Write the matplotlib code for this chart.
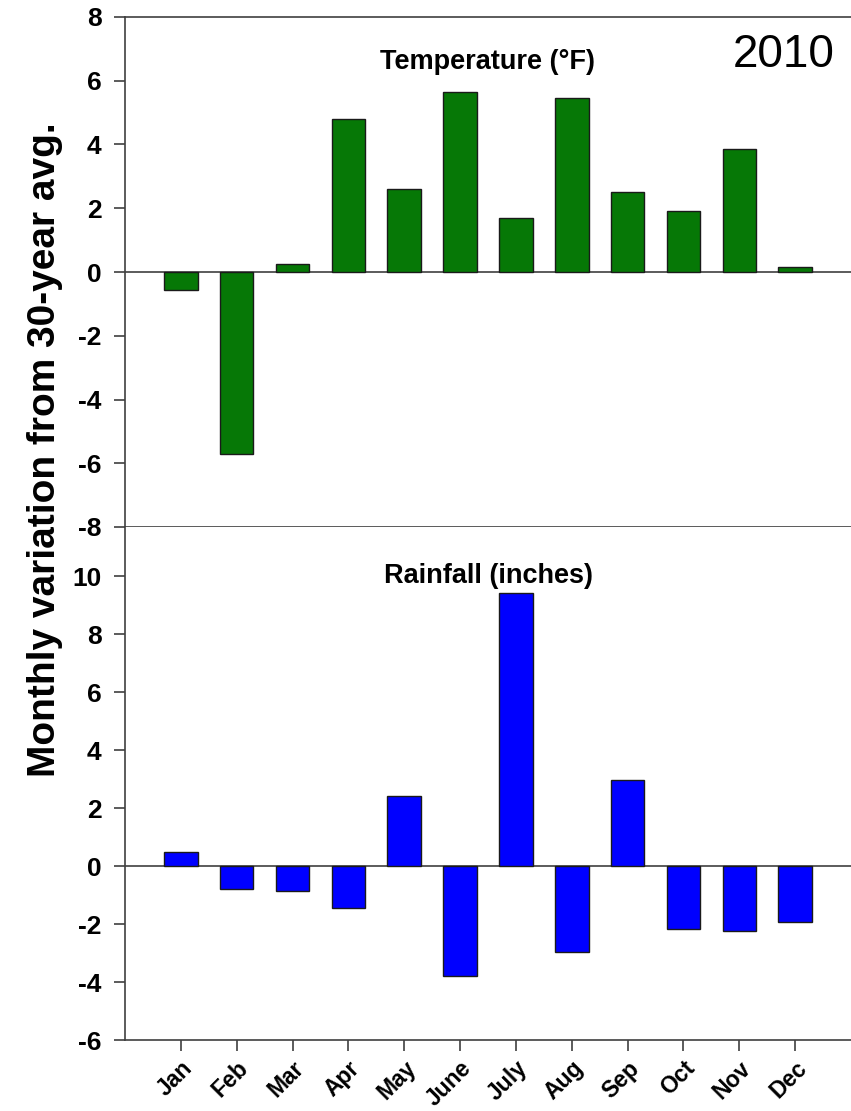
import matplotlib
matplotlib.use('Agg')
import matplotlib.pyplot as plt
import numpy as np

months = ['Jan', 'Feb', 'Mar', 'Apr', 'May', 'June', 'July', 'Aug', 'Sep', 'Oct', 'Nov', 'Dec']
temp = [-0.55, -5.7, 0.25, 4.8, 2.6, 5.65, 1.7, 5.45, 2.5, 1.9, 3.85, 0.15]
rain = [0.48, -0.8, -0.87, -1.45, 2.4, -3.8, 9.4, -2.97, 2.95, -2.17, -2.24, -1.93]
temp_ticks = [-8, -6, -4, -2, 0, 2, 4, 6, 8]
rain_ticks = [-6, -4, -2, 0, 2, 4, 6, 8, 10]

plt.rcParams['font.family'] = ['Liberation Sans', 'DejaVu Sans']
plt.rcParams['font.weight'] = 'bold'
plt.rcParams['axes.unicode_minus'] = False

fig = plt.figure(figsize=(8.51, 11.11), dpi=100)
W, H = 851, 1111
left = 125 / W
ax1 = fig.add_axes([left, 1 - 527 / H, 1 - left, (527 - 17) / H])
ax2 = fig.add_axes([left, 1 - 1040 / H, 1 - left, (1040 - 527) / H], sharex=ax1)

x = np.arange(len(months))
spine_col = '#404040'

ax1.bar(x, temp, width=0.6, color='#067806', edgecolor='#1a1a1a', linewidth=1.0, zorder=3)
ax2.bar(x, rain, width=0.6, color='#0000FF', edgecolor='#1a1a1a', linewidth=1.0, zorder=3)

for ax in (ax1, ax2):
    ax.axhline(0, color=spine_col, linewidth=1.2, zorder=2)
    ax.spines['right'].set_visible(False)
    for s in ('left', 'bottom', 'top'):
        ax.spines[s].set_color(spine_col)
        ax.spines[s].set_linewidth(1.2)
    ax.tick_params(axis='y', direction='out', length=8, width=1.2, color=spine_col,
                   labelsize=19, pad=9)
    ax.set_xlim(-1, 12)

ax1.set_ylim(-8, 8)
ax1.set_yticks(temp_ticks)
ax1.tick_params(axis='x', bottom=False, labelbottom=False)

ax2.set_ylim(-6, 11.69)
ax2.set_yticks(rain_ticks)
ax2.spines['top'].set_visible(False)
ax2.set_xticks(x)
ax2.set_xticklabels(months, rotation=45, ha='right', va='top', rotation_mode='anchor')
ax2.tick_params(axis='x', direction='out', length=8, width=1.2, color=spine_col,
                labelsize=16.5, pad=4)
for lab in ax2.get_xticklabels():
    lab.set_fontweight('bold')
for ax in (ax1, ax2):
    for lab in ax.get_yticklabels():
        lab.set_fontweight('bold')

ax1.text(5.5, 6.6, 'Temperature (°F)', ha='center', va='center', fontsize=19.5, fontweight='bold')
ax2.text(5.5, 10.0, 'Rainfall (inches)', ha='center', va='center', fontsize=19.5, fontweight='bold')
ax1.text(10.8, 6.8, '2010', ha='center', va='center', fontsize=33, fontweight='normal')

fig.text(45 / W, 1 - 450 / H, 'Monthly variation from 30-year avg.', rotation=90,
         ha='center', va='center', fontsize=28, fontweight='bold')

fig.savefig('out.png', dpi=100)
